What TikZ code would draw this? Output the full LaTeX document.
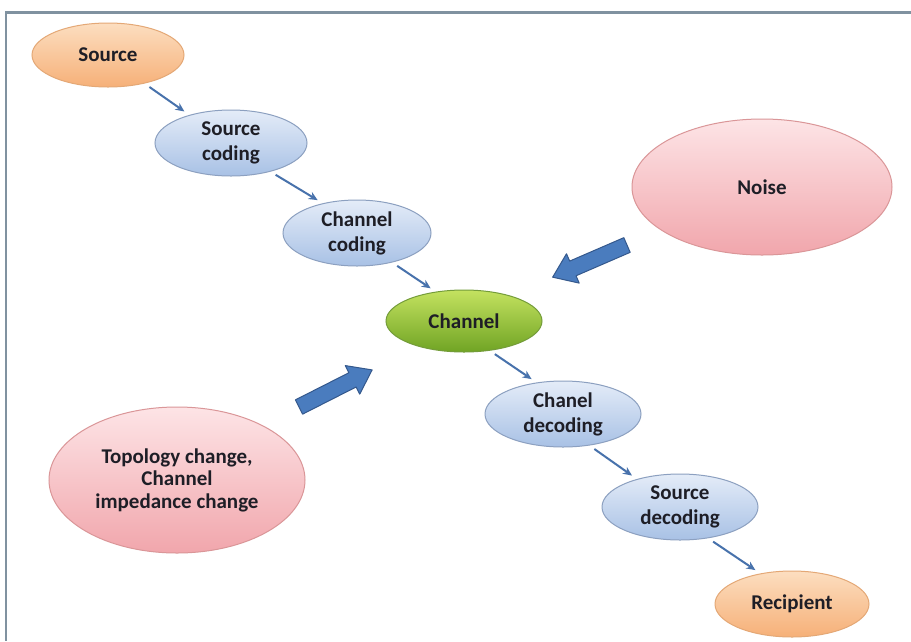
\documentclass[tikz,border=0pt]{standalone}
\usepackage{fontspec}
\setmainfont{Carlito}
\usetikzlibrary{shapes.geometric,arrows.meta}

\definecolor{frameline}{RGB}{128,146,160}
\definecolor{txt}{RGB}{30,30,38}
\definecolor{bluetop}{RGB}{228,236,248}
\definecolor{bluebot}{RGB}{168,193,229}
\definecolor{blueedge}{RGB}{140,160,192}
\definecolor{orangetop}{RGB}{252,222,192}
\definecolor{orangebot}{RGB}{246,176,120}
\definecolor{orangeedge}{RGB}{228,168,118}
\definecolor{pinktop}{RGB}{253,228,230}
\definecolor{pinkbot}{RGB}{241,166,172}
\definecolor{pinkedge}{RGB}{218,150,152}
\definecolor{greentop}{RGB}{196,226,96}
\definecolor{greenbot}{RGB}{112,164,36}
\definecolor{greenedge}{RGB}{116,156,58}
\definecolor{flowblue}{RGB}{72,114,172}
\definecolor{blockfill}{RGB}{74,124,190}
\definecolor{blockedge}{RGB}{52,88,140}

\tikzset{
  every node/.style={font=\bfseries\fontsize{21}{25}\selectfont, text=txt, align=center},
  oval/.style={ellipse, inner sep=0pt, line width=1pt},
  bluebox/.style={oval, draw=blueedge, top color=bluetop, bottom color=bluebot},
  orangebox/.style={oval, draw=orangeedge, top color=orangetop, bottom color=orangebot},
  pinkbox/.style={oval, draw=pinkedge, top color=pinktop, bottom color=pinkbot},
  greenbox/.style={oval, draw=greenedge, top color=greentop, bottom color=greenbot},
  flow/.style={draw=flowblue, line width=2pt, shorten <=6pt, shorten >=6pt,
    -{Stealth[length=9pt,width=8pt]}},
  blockarrow/.style={draw=blockedge, fill=blockfill, line width=1pt, line join=round},
}

% block arrow of given length, pointing along local +x from the origin
\newcommand{\blockshape}[1]{%
  (0,8) -- ({#1-22},8) -- ({#1-22},16) -- (#1,0) -- ({#1-22},-16) --
  ({#1-22},-8) -- (0,-8) -- cycle}

\begin{document}
\begin{tikzpicture}[x=1pt, y=-1pt]
  \useasboundingbox (0,0) rectangle (911,641);
  \fill[white] (0,0) rectangle (911,641);

  % outer frame (top and left edges)
  \draw[frameline, line width=2.5pt] (911,12.5) -- (6,12.5) -- (6,641);

  % chain of stages
  \node[orangebox, minimum width=152pt, minimum height=64pt] (src)  at (108,55)  {Source};
  \node[bluebox,   minimum width=152pt, minimum height=66pt] (scod) at (231,143) {Source\\coding};
  \node[bluebox,   minimum width=148pt, minimum height=66pt] (ccod) at (357,233) {Channel\\coding};
  \node[greenbox,  minimum width=156pt, minimum height=62pt] (chan) at (464,321) {Channel};
  \node[bluebox,   minimum width=156pt, minimum height=66pt] (cdec) at (563,414) {Chanel\\decoding};
  \node[bluebox,   minimum width=156pt, minimum height=66pt] (sdec) at (680,507) {Source\\decoding};
  \node[orangebox, minimum width=154pt, minimum height=66pt] (rcp)  at (792,604) {Recipient};

  % disturbances
  \node[pinkbox, minimum width=260pt, minimum height=136pt] (noise) at (762,187) {Noise};
  \node[pinkbox, minimum width=256pt, minimum height=146pt,
        font=\bfseries\fontsize{21}{22.5}\selectfont] (topo) at (177,480)
    {Topology change,\\Channel\\impedance change};

  % flow arrows
  \draw[flow] (src.-38)  -- (scod.146);
  \draw[flow] (scod.-36) -- (ccod.139);
  \draw[flow] (ccod.-40) -- (chan.134);
  \draw[flow] (chan.-49) -- (cdec.130);
  \draw[flow] (cdec.-50) -- (sdec.147);
  \draw[flow] (sdec.-48) -- (rcp.136);

  % influence arrows toward the channel
  \begin{scope}[shift={(299,407)}, rotate=26.9]
    \draw[blockarrow] \blockshape{82};
  \end{scope}
  \begin{scope}[shift={(627,245)}, rotate=203.4]
    \draw[blockarrow] \blockshape{81};
  \end{scope}
\end{tikzpicture}
\end{document}
